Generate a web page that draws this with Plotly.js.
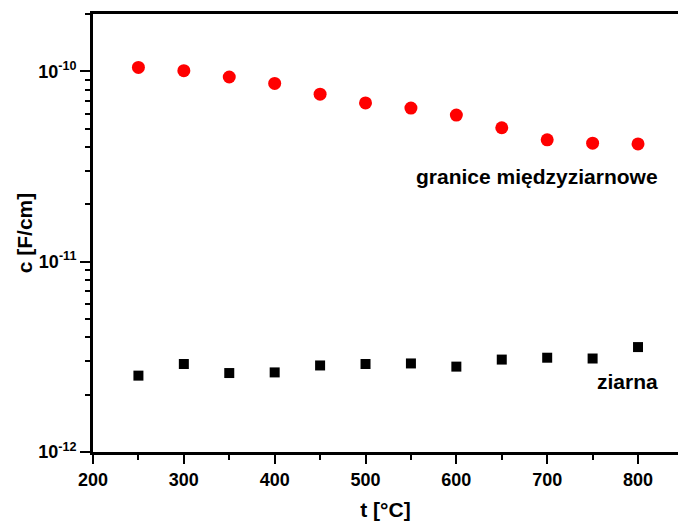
<!DOCTYPE html>
<html>
<head>
<meta charset="utf-8">
<script src="https://cdn.plot.ly/plotly-3.0.1.min.js"></script>
<style>html,body{margin:0;padding:0;background:#fff;}#chart{width:678px;height:521px;}</style>
</head>
<body>
<div id="chart"></div>
<script>
// temperatures [°C]
const temperature = [250, 300, 350, 400, 450, 500, 550, 600, 650, 700, 750, 800];
// grain boundaries capacitance [F/cm]
const graniceValues = [1.05e-10, 1.01e-10, 9.35e-11, 8.65e-11, 7.6e-11, 6.83e-11, 6.42e-11, 5.9e-11, 5.06e-11, 4.37e-11, 4.2e-11, 4.16e-11];
// grains capacitance [F/cm]
const ziarnaValues = [2.52e-12, 2.9e-12, 2.6e-12, 2.62e-12, 2.85e-12, 2.9e-12, 2.92e-12, 2.81e-12, 3.06e-12, 3.13e-12, 3.1e-12, 3.56e-12];
// y tick values and labels
const yTickVals = [1e-12, 1e-11, 1e-10];
const yTickExps = ['-12', '-11', '-10'];
const labelGranice = 'granice międzyziarnowe';
const labelZiarna = 'ziarna';
const xTitle = 't [°C]';
const yTitle = 'c [F/cm]';

const FONT = 'Liberation Sans, Arial, sans-serif';
const bold = (size) => ({family: FONT, size: size, color: '#000', weight: 'bold'});

const yTickText = yTickExps.map(e => '10<sup>' + e + '</sup>');

const traces = [
  {x: temperature, y: graniceValues, type: 'scatter', mode: 'markers', name: labelGranice,
   marker: {symbol: 'circle', size: 13, color: '#ff0000', line: {width: 0}}},
  {x: temperature, y: ziarnaValues, type: 'scatter', mode: 'markers', name: labelZiarna,
   marker: {symbol: 'square', size: 10, color: '#000000', line: {width: 0}}}
];

const xr = [200, 844];
const yr = [-12, -9.698];

const layout = {
  width: 678, height: 521,
  margin: {l: 93, r: 0, t: 14, b: 69},
  paper_bgcolor: '#fff', plot_bgcolor: '#fff',
  showlegend: false,
  xaxis: {
    range: xr, dtick: 100, tick0: 200,
    showgrid: false, zeroline: false,
    showline: true, linewidth: 3, linecolor: '#000', mirror: true,
    ticks: 'outside', ticklen: 9, tickwidth: 2, tickcolor: '#000',
    minor: {dtick: 50, ticks: 'outside', ticklen: 5, tickwidth: 2, tickcolor: '#000', showgrid: false},
    tickfont: bold(18),
    title: {text: xTitle, font: bold(21), standoff: 14}
  },
  xaxis2: {
    overlaying: 'x', side: 'top', anchor: 'y', range: xr, dtick: 100, tick0: 200,
    showgrid: false, zeroline: false, showline: false, showticklabels: false,
    ticks: 'inside', ticklen: 9, tickwidth: 2, tickcolor: '#000',
    minor: {dtick: 50, ticks: 'inside', ticklen: 5, tickwidth: 2, tickcolor: '#000', showgrid: false}
  },
  yaxis: {
    type: 'log', range: yr,
    tickmode: 'array', tickvals: yTickVals, ticktext: yTickText,
    showgrid: false, zeroline: false,
    showline: true, linewidth: 3, linecolor: '#000', mirror: false,
    ticks: 'outside', ticklen: 10, tickwidth: 2, tickcolor: '#000',
    minor: {dtick: 'D1', ticks: 'outside', ticklen: 5, tickwidth: 2, tickcolor: '#000', showgrid: false},
    tickfont: bold(18),
    title: {text: yTitle, font: bold(21), standoff: 0}
  },
  yaxis2: {
    type: 'log', overlaying: 'y', side: 'right', anchor: 'x', range: yr,
    tickmode: 'array', tickvals: yTickVals,
    showgrid: false, zeroline: false, showline: false, showticklabels: false,
    ticks: 'inside', ticklen: 4, tickwidth: 2, tickcolor: '#000'
  },
  annotations: [
    {x: 824.5, y: -10.553, xref: 'x', yref: 'y', text: labelGranice, showarrow: false,
     xanchor: 'right', yanchor: 'middle', font: bold(21)},
    {x: 824, y: -11.63, xref: 'x', yref: 'y', text: labelZiarna, showarrow: false,
     xanchor: 'right', yanchor: 'middle', font: bold(21)}
  ]
};

Plotly.newPlot('chart', traces, layout, {displayModeBar: false, staticPlot: true});
</script>
</body>
</html>
